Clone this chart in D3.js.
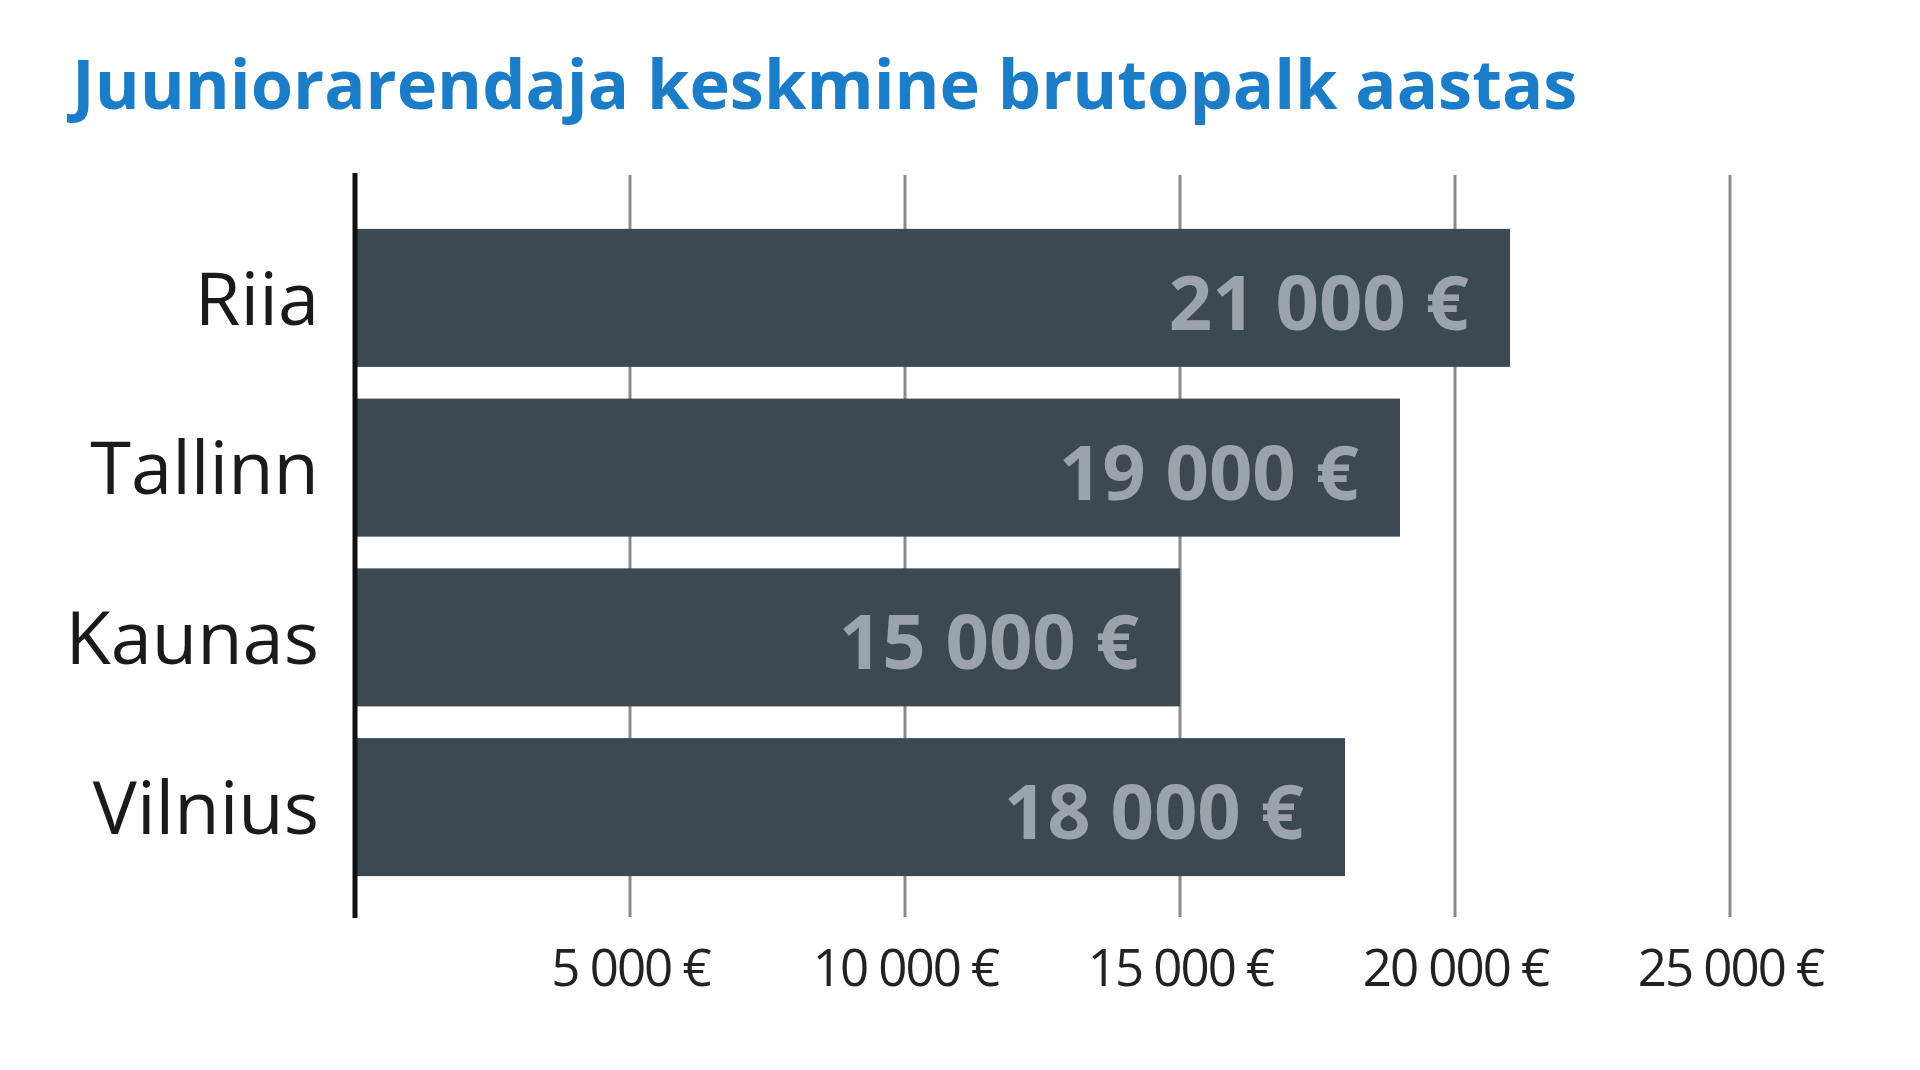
<!DOCTYPE html>
<html>
<head>
<meta charset="utf-8">
<script src="https://cdn.jsdelivr.net/npm/d3@7"></script>
<style>
  html, body { margin: 0; padding: 0; background: #fff; }
  svg { display: block; }
</style>
</head>
<body>
<svg id="chart" width="1920" height="1070"></svg>
<script>
// data
var cities = ['Riia', 'Tallinn', 'Kaunas', 'Vilnius'];
var salaries = [21000, 19000, 15000, 18000];
var tickValues = [5000, 10000, 15000, 20000, 25000];
var title = 'Juuniorarendaja keskmine brutopalk aastas';

var fmt = function (v) {
    return d3.format(',')(v).replace(/,/g, ' ') + ' €';
};

var svg = d3.select('#chart');

var x = d3.scaleLinear().domain([0, 25000]).range([355, 1730]);
var y = d3.scaleBand().domain(cities).range([213, 892])
    .paddingInner(0.187).paddingOuter(0.0935);

// title
svg.append('text')
    .attr('x', 72)
    .attr('y', 109)
    .attr('font-family', '"Open Sans", sans-serif')
    .attr('font-weight', 700)
    .attr('font-size', 68.5)
    .attr('fill', '#1b7cc8')
    .text(title);

// grid lines
svg.append('g')
    .selectAll('line')
    .data(tickValues)
    .join('line')
    .attr('x1', function (d) { return x(d); })
    .attr('x2', function (d) { return x(d); })
    .attr('y1', 175)
    .attr('y2', 917)
    .attr('stroke', '#8a8a8a')
    .attr('stroke-width', 3);

// bottom axis labels
var xAxis = d3.axisBottom(x)
    .tickValues(tickValues)
    .tickSize(0)
    .tickPadding(0)
    .tickFormat(fmt);

var gx = svg.append('g')
    .attr('transform', 'translate(0,986)')
    .call(xAxis);
gx.select('.domain').remove();
gx.selectAll('text')
    .attr('dy', 0)
    .attr('font-family', '"Open Sans", sans-serif')
    .attr('font-size', 51)
    .attr('letter-spacing', -2)
    .attr('fill', '#222');

// bars
var rows = cities.map(function (c, i) { return { city: c, value: salaries[i] }; });

svg.append('g')
    .selectAll('rect')
    .data(rows)
    .join('rect')
    .attr('x', x(0))
    .attr('y', function (d) { return y(d.city); })
    .attr('width', function (d) { return x(d.value) - x(0); })
    .attr('height', y.bandwidth())
    .attr('fill', '#3d4952');

// value labels
svg.append('g')
    .selectAll('text')
    .data(rows)
    .join('text')
    .attr('x', function (d) { return x(d.value) - 41; })
    .attr('y', function (d) { return y(d.city) + y.bandwidth() / 2 + 32; })
    .attr('text-anchor', 'end')
    .attr('font-family', '"Open Sans", sans-serif')
    .attr('font-weight', 700)
    .attr('font-size', 76)
    .attr('fill', '#9ba4ac')
    .text(function (d) { return fmt(d.value); });

// category axis
var yAxis = d3.axisLeft(y).tickSize(0).tickPadding(36);
var gy = svg.append('g')
    .attr('transform', 'translate(' + x(0) + ',0)')
    .call(yAxis);
gy.select('.domain').remove();
gy.selectAll('text')
    .attr('dy', '0.36em')
    .attr('font-family', '"Open Sans", sans-serif')
    .attr('font-size', 74)
    .attr('fill', '#1a1a1a');

// vertical axis line
svg.append('line')
    .attr('x1', x(0))
    .attr('x2', x(0))
    .attr('y1', 173)
    .attr('y2', 918)
    .attr('stroke', '#111')
    .attr('stroke-width', 5);
</script>
</body>
</html>
